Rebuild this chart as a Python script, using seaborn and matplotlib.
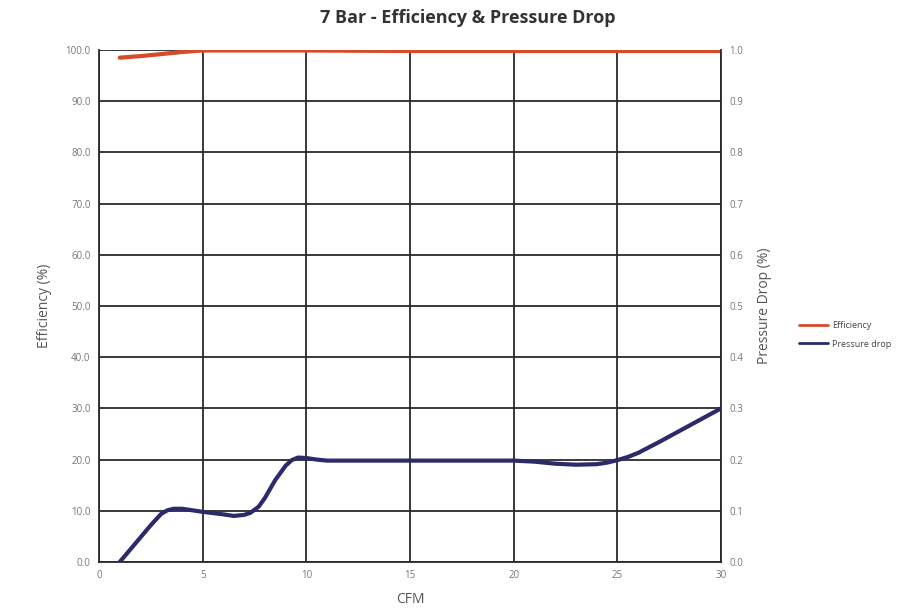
import matplotlib
matplotlib.use("Agg")
import matplotlib.pyplot as plt
import seaborn as sns
import pandas as pd
from matplotlib.lines import Line2D

# Data
eff_cfm = [1, 2, 3, 4, 5, 10, 15, 20, 25, 30]
eff_val = [98.5, 98.8, 99.2, 99.6, 99.9, 99.9, 99.8, 99.8, 99.8, 99.8]

pd_cfm = [1, 2, 2.5, 3, 3.3, 3.6, 4, 4.5, 5, 6, 6.5, 7, 7.3, 7.7, 8, 8.5, 9, 9.3, 9.6, 10, 10.5, 11,
          15, 20, 21, 22, 23, 24, 24.5, 25, 25.5, 26, 27, 28, 29, 30]
pd_val = [0.0, 0.048, 0.072, 0.094, 0.101, 0.104, 0.104, 0.101, 0.098, 0.093, 0.090, 0.092, 0.096,
          0.108, 0.125, 0.160, 0.188, 0.199, 0.204, 0.203, 0.200, 0.198,
          0.198, 0.198, 0.196, 0.192, 0.190, 0.191, 0.194, 0.199, 0.205, 0.213, 0.234, 0.256, 0.278, 0.300]

x_ticks = [0, 5, 10, 15, 20, 25, 30]
left_ticks = [0, 10, 20, 30, 40, 50, 60, 70, 80, 90, 100]
right_ticks = [0.0, 0.1, 0.2, 0.3, 0.4, 0.5, 0.6, 0.7, 0.8, 0.9, 1.0]

title = "7 Bar - Efficiency & Pressure Drop"
eff_color = "#D64B2C"
pd_color = "#2B2A6B"

sns.set_style("white")
plt.rcParams["font.family"] = ["Open Sans", "DejaVu Sans"]

fig = plt.figure(figsize=(9.2, 6.14), dpi=100)
ax = fig.add_axes([0.1076, 0.0847, 0.6761, 0.8339])
ax2 = ax.twinx()

df_eff = pd.DataFrame({"CFM": eff_cfm, "Efficiency": eff_val})
df_pd = pd.DataFrame({"CFM": pd_cfm, "Pressure drop": pd_val})

sns.lineplot(data=df_eff, x="CFM", y="Efficiency", ax=ax, color=eff_color, lw=3, zorder=5)
sns.lineplot(data=df_pd, x="CFM", y="Pressure drop", ax=ax2, color=pd_color, lw=3, zorder=5)

ax.set_xlim(0, 30)
ax.set_ylim(0, 100)
ax2.set_ylim(0, 1.0)
ax.set_xticks(x_ticks)
ax.set_yticks(left_ticks)
ax2.set_yticks(right_ticks)
ax.set_xticklabels([str(t) for t in x_ticks])
ax.set_yticklabels([f"{t:.1f}" for t in left_ticks])
ax2.set_yticklabels([f"{t:.1f}" for t in right_ticks])

ax.grid(True, color="#2a2a2a", lw=1.3)
ax.set_axisbelow(True)
for a in (ax, ax2):
    for s in a.spines.values():
        s.set_visible(False)
    a.tick_params(axis="both", length=0, labelsize=7, colors="#777777", pad=6)
for a, side in ((ax, "left"), (ax, "bottom"), (ax2, "right")):
    a.spines[side].set_visible(True)
    a.spines[side].set_color("#2a2a2a")
    a.spines[side].set_linewidth(1.3)
ax2.grid(False)

ax.set_xlabel("CFM", fontsize=10, color="#555555", labelpad=8)
ax.set_ylabel("Efficiency (%)", fontsize=10, color="#555555", labelpad=10)
ax2.set_ylabel("Pressure Drop (%)", fontsize=10, color="#555555", labelpad=10)
fig.suptitle(title, x=0.508, y=0.985, fontsize=13, fontweight="bold", color="#333333")

handles = [Line2D([0], [0], color=eff_color, lw=2),
           Line2D([0], [0], color=pd_color, lw=2)]
fig.legend(handles, ["Efficiency", "Pressure drop"], loc="center left",
           bbox_to_anchor=(0.86, 0.455), frameon=False, fontsize=6.5,
           handlelength=3.2, labelcolor="#444444", handletextpad=0.4, labelspacing=1.1)

fig.savefig("out.png", dpi=100)
